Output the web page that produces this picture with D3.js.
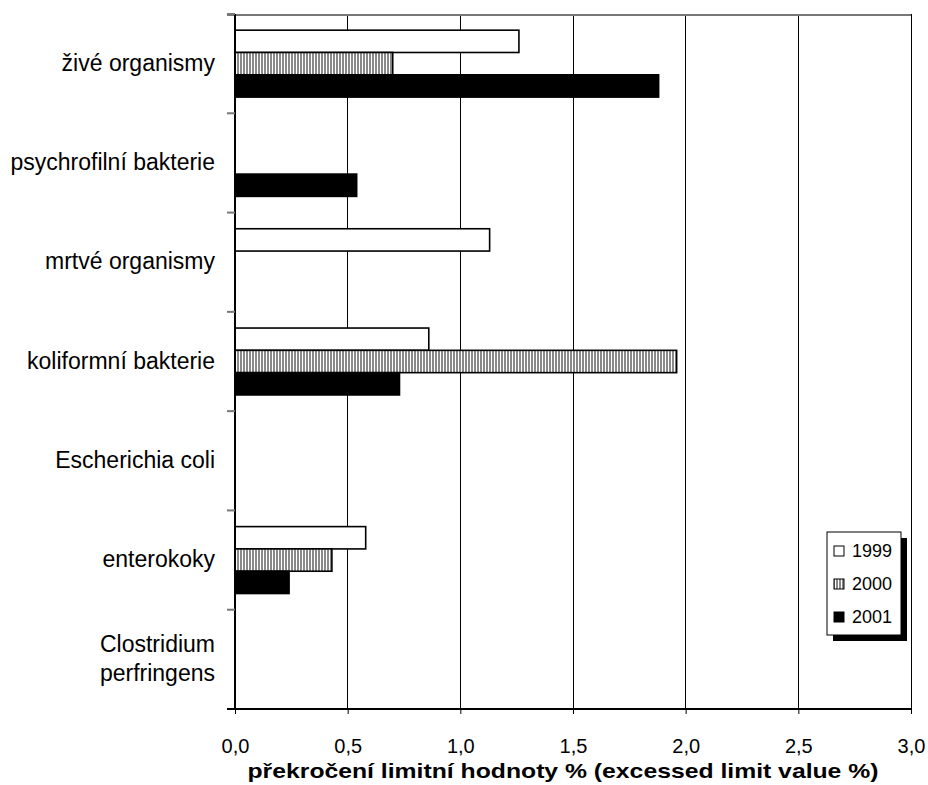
<!DOCTYPE html>
<html>
<head>
<meta charset="utf-8">
<script src="https://cdn.jsdelivr.net/npm/d3@7"></script>
<style>
  body { margin: 0; background: #fff; }
  svg { display: block; font-family: "Liberation Sans", Arial, sans-serif; }
</style>
</head>
<body>
<svg id="chart" width="928" height="785"></svg>
<script>
// Categories (top to bottom) and the three survey years
const categories = [
  "živé organismy",
  "psychrofilní bakterie",
  "mrtvé organismy",
  "koliformní bakterie",
  "Escherichia coli",
  "enterokoky",
  "Clostridium perfringens"
];
const years = ["1999", "2000", "2001"];

// Share of samples exceeding the limit value (%), one array per year
const values1999 = [1.26, 0, 1.13, 0.86, 0, 0.58, 0];
const values2000 = [0.70, 0, 0, 1.96, 0, 0.43, 0];
const values2001 = [1.88, 0.54, 0, 0.73, 0, 0.24, 0];

const xTicks = [0, 0.5, 1, 1.5, 2, 2.5, 3];
const xTitle = "překročení limitní hodnoty % (excessed limit value %)";

const seriesValues = { "1999": values1999, "2000": values2000, "2001": values2001 };

const svg = d3.select("#chart");
const margin = { left: 235, right: 17, top: 14, bottom: 76 };
const W = 928, H = 785;
const plotL = margin.left, plotR = W - margin.right;
const plotT = margin.top, plotB = H - margin.bottom;

const x = d3.scaleLinear().domain([0, 3]).range([plotL, plotR]);
const y = d3.scaleBand().domain(categories).range([plotT, plotB]).padding(0);
const yInner = d3.scaleBand().domain(years)
  .range([y.bandwidth() * 0.163, y.bandwidth() * 0.837]).padding(0);

// Fill patterns
const defs = svg.append("defs");
const pat = defs.append("pattern").attr("id", "vstripes")
  .attr("patternUnits", "userSpaceOnUse").attr("width", 3).attr("height", 6);
pat.append("rect").attr("width", 3).attr("height", 6).attr("fill", "#fff");
pat.append("rect").attr("width", 2).attr("height", 6).attr("fill", "#8a8a8a");

const fills = { "1999": "#ffffff", "2000": "url(#vstripes)", "2001": "#000000" };

// Vertical gridlines
svg.append("g").selectAll("line").data(xTicks.filter(d => d > 0)).join("line")
  .attr("x1", d => x(d)).attr("x2", d => x(d))
  .attr("y1", plotT).attr("y2", plotB)
  .attr("stroke", "#000").attr("stroke-width", 1).attr("shape-rendering", "crispEdges");

// Top frame line
svg.append("line").attr("x1", plotL - 8).attr("x2", plotR)
  .attr("y1", plotT + 0.5).attr("y2", plotT + 0.5)
  .attr("stroke", "#777").attr("stroke-width", 2).attr("shape-rendering", "crispEdges");

// Bars
const groups = svg.append("g").selectAll("g").data(categories).join("g")
  .attr("transform", d => `translate(0,${y(d)})`);
groups.selectAll("rect")
  .data((c, i) => years.map(yr => ({ yr, v: seriesValues[yr][i] })).filter(d => d.v > 0))
  .join("rect")
  .attr("x", x(0))
  .attr("y", d => yInner(d.yr))
  .attr("width", d => x(d.v) - x(0))
  .attr("height", yInner.bandwidth())
  .attr("fill", d => fills[d.yr])
  .attr("stroke", "#000").attr("stroke-width", 1.6);

// Y axis with ticks at band boundaries
const yAxis = svg.append("g");
yAxis.append("line").attr("x1", plotL).attr("x2", plotL).attr("y1", plotT).attr("y2", plotB)
  .attr("stroke", "#000").attr("stroke-width", 2);
const bounds = categories.map(c => y(c)).concat([plotB]);
yAxis.selectAll("line.tick").data(bounds).join("line").attr("class", "tick")
  .attr("x1", plotL - 8).attr("x2", plotL).attr("y1", d => d).attr("y2", d => d)
  .attr("stroke", "#777").attr("stroke-width", 2);

// Category labels
const labelX = 215;
categories.forEach(c => {
  const parts = c === "Clostridium perfringens" ? ["Clostridium", "perfringens"] : [c];
  const cy = y(c) + y.bandwidth() / 2;
  const t = svg.append("text").attr("x", labelX).attr("text-anchor", "end")
    .attr("font-size", 23).attr("fill", "#000");
  parts.forEach((p, i) => {
    t.append("tspan").attr("x", labelX)
      .attr("y", cy + 7 + (i - (parts.length - 1) / 2) * 29)
      .text(p);
  });
});

// X axis
const xAxis = d3.axisBottom(x).tickValues(xTicks).tickSize(5)
  .tickFormat(d => d3.format(".1f")(d).replace(".", ","));
const gx = svg.append("g").attr("transform", `translate(0,${plotB})`).call(xAxis);
gx.select(".domain").attr("stroke", "#000").attr("stroke-width", 2)
  .attr("d", `M${plotL - 8},0H${plotR}`);
gx.selectAll(".tick line").attr("stroke", "#000");
gx.selectAll(".tick text").attr("font-size", 20).attr("font-family", "Liberation Sans, Arial, sans-serif")
  .attr("fill", "#000").attr("y", 44).attr("dy", 0);

// Axis title
svg.append("text").attr("x", (plotL + plotR) / 2 - 10).attr("y", 778)
  .attr("text-anchor", "middle").attr("font-size", 21).attr("font-weight", "bold")
  .attr("textLength", 631).attr("lengthAdjust", "spacingAndGlyphs")
  .text(xTitle);

// Legend with drop shadow
const lg = svg.append("g").attr("transform", "translate(827,532)");
lg.append("rect").attr("x", 6).attr("y", 6).attr("width", 74).attr("height", 103).attr("fill", "#000");
lg.append("rect").attr("x", 0).attr("y", 0).attr("width", 74).attr("height", 103)
  .attr("fill", "#fff").attr("stroke", "#000").attr("stroke-width", 1);
years.forEach((yr, i) => {
  const cy = 19 + i * 33;
  lg.append("rect").attr("x", 7).attr("y", cy - 5).attr("width", 10).attr("height", 10)
    .attr("fill", fills[yr]).attr("stroke", "#000").attr("stroke-width", 1);
  lg.append("text").attr("x", 25).attr("y", cy + 6).attr("font-size", 18).text(yr);
});
</script>
</body>
</html>
